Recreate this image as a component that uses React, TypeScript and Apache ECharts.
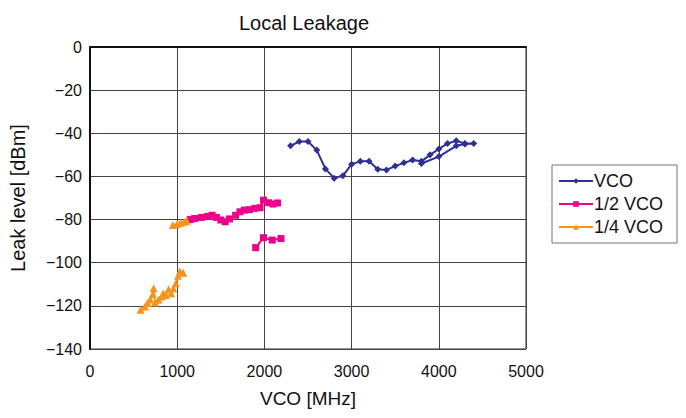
import React, { useEffect, useRef } from "react";
import * as echarts from "echarts";

const title = "Local Leakage";
const seriesNames = ["VCO", "1/2 VCO", "1/4 VCO"];

const vco: number[][] = [
  [2300, -45.8], [2400, -43.8], [2500, -43.8], [2600, -47.8], [2700, -56.5],
  [2800, -60.8], [2900, -59.7], [3000, -54.3], [3100, -53], [3200, -53],
  [3300, -56.7], [3400, -57], [3500, -55.2], [3600, -53.7], [3700, -52.4],
  [3800, -53], [3900, -50], [4000, -47.3], [4100, -44.7], [4200, -43.5],
  [4300, -44.7], [4400, -44.7], [4300, -45], [4200, -45.8], [4000, -50.8],
  [3800, -54],
];

const halfUpper: number[][] = [
  [1150, -80], [1200, -79.5], [1280, -79], [1350, -78.5], [1400, -78],
  [1450, -79], [1500, -80.2], [1550, -81], [1600, -79.7], [1670, -78],
  [1720, -76.4], [1770, -75.6], [1830, -75.4], [1890, -74.8], [1950, -74.5],
  [1990, -71], [2050, -72.2], [2100, -72.8], [2150, -72.3],
];
const halfLower: number[][] = [
  [1900, -93], [1990, -88.4], [2090, -89.5], [2190, -88.8],
];

const quarterLower: number[][] = [
  [580, -121.8], [630, -120.3], [660, -118.7], [690, -117], [720, -114.5],
  [730, -111.8], [745, -118.5], [785, -117.2], [820, -115.7], [840, -114.1],
  [870, -115], [900, -112.3], [930, -114.1], [955, -111.8], [985, -109.5],
  [1010, -106.1], [1030, -104.1], [1070, -104.6],
];
const quarterUpper: number[][] = [
  [950, -82.5], [1000, -82], [1040, -81.5], [1080, -81], [1110, -80.5],
];

const colors = ["#2E3192", "#EC008C", "#F7941D"];
const FONT = "Arial, 'Liberation Sans', Helvetica, sans-serif";

export default function App() {
  const ref = useRef<HTMLDivElement>(null);
  useEffect(() => {
    if (!ref.current) return;
    const chart = echarts.init(ref.current, undefined, { renderer: "svg" });
    const mk = (name: string, data: number[][], color: string, symbol: string, size: number) => ({
      name,
      type: "line",
      data,
      symbol,
      symbolSize: size,
      showSymbol: true,
      lineStyle: { color, width: 2 },
      itemStyle: { color },
      emphasis: { disabled: true },
    });
    chart.setOption({
      animation: false,
      color: colors,
      textStyle: { fontFamily: FONT },
      title: {
        text: title,
        left: 299,
        textAlign: "center",
        top: 8,
        textStyle: { fontSize: 20, fontWeight: "normal", color: "#111", fontFamily: FONT },
      },
      grid: {
        left: 88,
        right: 160,
        top: 47,
        bottom: 69,
        show: true,
        borderColor: "#333",
        borderWidth: 1,
      },
      legend: {
        orient: "vertical",
        left: 552,
        top: 165,
        data: seriesNames,
        borderColor: "#777",
        borderWidth: 1,
        padding: [7, 14, 7, 6],
        itemGap: 5,
        itemWidth: 34,
        itemHeight: 7,
        textStyle: { fontSize: 18, color: "#111", fontFamily: FONT, padding: [0, 0, 0, -4] },
      },
      xAxis: {
        type: "value",
        min: 0,
        max: 5000,
        interval: 1000,
        name: "VCO [MHz]",
        nameLocation: "middle",
        nameGap: 40,
        nameTextStyle: { fontSize: 19, color: "#111", fontFamily: FONT },
        axisLine: { show: true, lineStyle: { color: "#111", width: 2 } },
        axisTick: { show: false },
        axisLabel: { fontSize: 16, color: "#111", margin: 14, fontFamily: FONT, formatter: (v: number) => String(v) },
        splitLine: { show: true, lineStyle: { color: "#444", width: 1 } },
      },
      yAxis: {
        type: "value",
        min: -140,
        max: 0,
        interval: 20,
        name: "Leak level [dBm]",
        nameLocation: "middle",
        nameGap: 62,
        nameTextStyle: { fontSize: 20, color: "#111", fontFamily: FONT },
        axisLine: { show: true, onZero: false, lineStyle: { color: "#111", width: 2 } },
        axisTick: { show: false },
        axisLabel: {
          fontSize: 16,
          color: "#111",
          margin: 8,
          fontFamily: FONT,
          formatter: (v: number) => String(v).replace("-", "\u2212"),
        },
        splitLine: { show: true, lineStyle: { color: "#444", width: 1 } },
      },
      series: [
        mk("VCO", vco, colors[0], "diamond", 7),
        mk("1/2 VCO", halfUpper, colors[1], "rect", 7),
        mk("1/2 VCO", halfLower, colors[1], "rect", 7),
        mk("1/4 VCO", quarterLower, colors[2], "triangle", 8),
        mk("1/4 VCO", quarterUpper, colors[2], "triangle", 8),
      ],
    });
    return () => chart.dispose();
  }, []);
  return <div ref={ref} style={{ width: 686, height: 418, position: "absolute", left: 0, top: 0 }} />;
}
